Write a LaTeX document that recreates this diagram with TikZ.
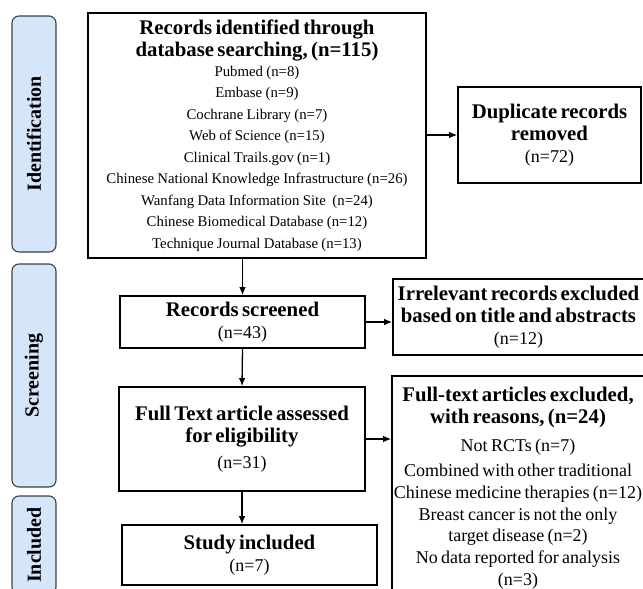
\documentclass[tikz,border=0pt]{standalone}
\usepackage{fontspec}
\setmainfont{Liberation Serif}
\usetikzlibrary{positioning,arrows.meta}

\definecolor{phasefill}{RGB}{214,230,250}
\newcommand{\ttl}{\fontsize{20.8}{22}\selectfont\bfseries}
\newcommand{\num}{\fontsize{18}{22.5}\selectfont\mdseries}
\newcommand{\lst}{\fontsize{14.8}{21.5}\selectfont\mdseries}

\begin{document}
\begin{tikzpicture}[x=1pt, y=-1pt,
  phase/.style={draw=black!75, fill=phasefill, rounded corners=7pt, line width=1.1pt,
    rotate=90, minimum height=44pt, font=\fontsize{20}{22}\selectfont\bfseries},
  box/.style={draw, line width=1.6pt, align=center, inner sep=0pt},
  arr/.style={-{Latex[length=8pt,width=6.5pt]}, line width=1.3pt}]
  \useasboundingbox (0,0) rectangle (643,589);
  % phases
  \node[phase, minimum width=236pt] (idph) at (34,134) {Identification};
  \node[phase, minimum width=223pt] (scph) at (34,375.5) {Screening};
  \node[phase, minimum width=98pt] (inph) at (34,545) {Included};
  % boxes
  \node[box, minimum width=338pt, minimum height=245pt, text width=336pt] (id) at (257,135.5)
    {\ttl Records identified through\\ database searching, (n=115)\par
     \lst\vspace{-1.5pt}Pubmed (n=8)\\ Embase (n=9)\\ Cochrane Library (n=7)\\ Web of Science (n=15)\\
     Clinical Trails.gov (n=1)\\ Chinese National Knowledge Infrastructure (n=26)\\
     Wanfang Data Information Site~~(n=24)\\ Chinese Biomedical Database (n=12)\\
     Technique Journal Database (n=13)\par};
  \node[box, minimum width=183pt, minimum height=96pt, text width=180pt] (dup) at (549.5,135)
    {\ttl Duplicate records\\ removed\par \num (n=72)\par};
  \node[box, minimum width=245pt, minimum height=52pt, text width=240pt] (scr) at (242.5,322)
    {\ttl Records screened\par \num (n=43)\par};
  \node[box, minimum width=251pt, minimum height=76pt, text width=251pt] (irr) at (518.5,317)
    {\ttl Irrelevant records excluded\\ based on title and abstracts\par \num (n=12)\par};
  \node[box, minimum width=246pt, minimum height=104pt, text width=240pt] (ft) at (242,439)
    {\ttl Full Text article assessed\\ for eligibility\par \num\vspace{3pt}(n=31)\par};
  \node[box, anchor=north, minimum width=252pt, text width=252pt, inner ysep=11pt] (excl) at (518,375)
    {\ttl Full-text articles excluded,\\ with reasons, (n=24)\par
     \fontsize{18}{21.7}\selectfont\mdseries\vspace{7pt}Not RCTs (n=7)\par\vspace{3pt}
     Combined with other traditional\\ Chinese medicine therapies (n=12)\\
     Breast cancer is not the only\\ target disease (n=2)\\
     No data reported for analysis\\ (n=3)\par};
  \node[box, minimum width=255pt, minimum height=60pt, text width=250pt] (inc) at (249.5,555)
    {\ttl Study included\par \num (n=7)\par};
  % arrows
  \draw[arr] (id.south -| scr.north) -- (scr.north);
  \draw[arr] (id.east |- dup.west) -- (dup.west);
  \draw[arr] (scr.east) -- (scr.east -| irr.west);
  \draw[arr] (scr.south) -- (ft.north);
  \draw[arr] (ft.east) -- (ft.east -| excl.west);
  \draw[arr] (ft.south) -- (ft.south |- inc.north);
\end{tikzpicture}
\end{document}
